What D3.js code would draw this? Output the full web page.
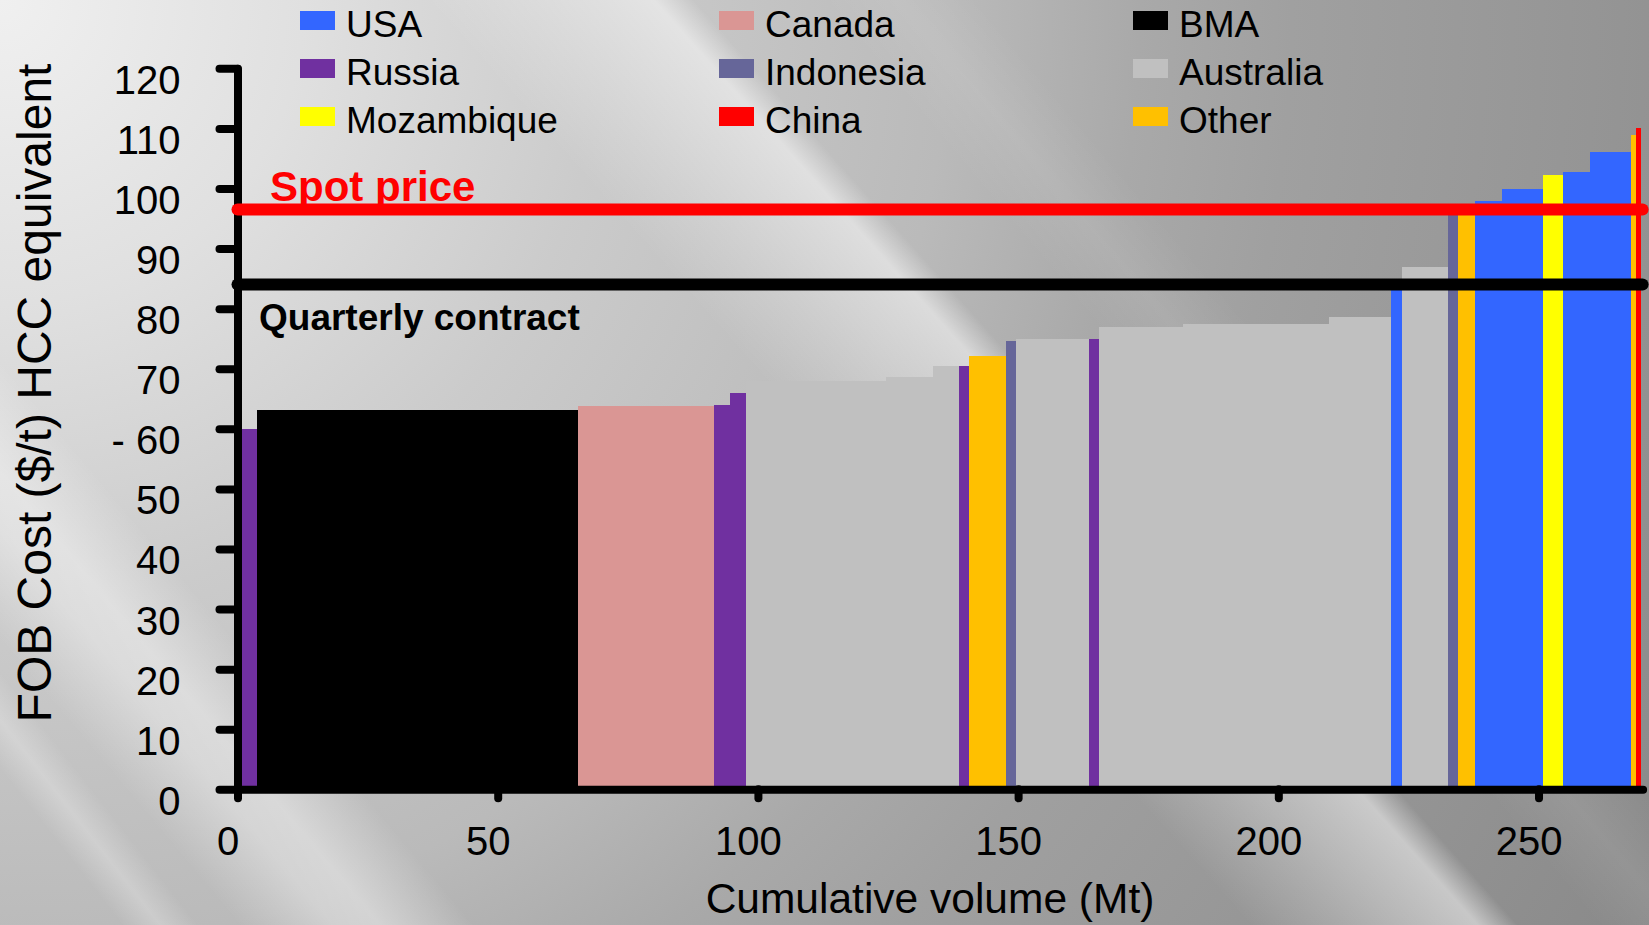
<!DOCTYPE html>
<html>
<head>
<meta charset="utf-8">
<title>Hard coking coal cost curve</title>
<script src="https://cdn.jsdelivr.net/npm/d3@7"></script>
<style>
  html, body { margin: 0; padding: 0; background: #b0b0b0; }
  svg { display: block; font-family: "Liberation Sans", Arial, sans-serif; }
</style>
</head>
<body>
<svg id="chart" width="1649" height="925"></svg>
<script>
// Supplier groups shown in the legend, with their fill colours
const countries = ["USA", "Canada", "BMA", "Russia", "Indonesia", "Australia", "Mozambique", "China", "Other"];
const countryColors = ["#3366FF", "#DA9694", "#000000", "#7030A0", "#666699", "#C0C0C0", "#FFFF00", "#FF0000", "#FFC000"];

// Cost curve steps, ordered from cheapest to most expensive
const supplier = ["Russia", "BMA", "Canada", "Russia", "Russia", "Australia", "Australia", "Australia", "Russia",
  "Other", "Indonesia", "Australia", "Russia", "Australia", "Australia", "Australia", "USA", "Australia",
  "Indonesia", "Other", "USA", "USA", "Mozambique", "USA", "USA", "Other", "China"];
const volumeMt = [3.8, 61.7, 26.1, 3.1, 3.0, 26.9, 9.0, 5.1, 1.9,
  7.1, 1.9, 14.1, 1.9, 16.1, 28.0, 12.0, 2.0, 9.0,
  1.9, 3.2, 5.1, 7.9, 4.0, 5.0, 8.0, 1.0, 0.9];
const fobCost = [60.0, 63.1, 63.8, 63.9, 65.9, 68.0, 68.7, 70.5, 70.5,
  72.1, 74.6, 74.9, 74.9, 76.9, 77.5, 78.6, 84.0, 86.9,
  96.0, 96.5, 97.9, 99.9, 102.2, 102.7, 106.1, 108.9, 110.1];

// Reference prices
const spotPrice = 96.5;
const quarterlyContract = 84;

// Axis ticks
const yTicks = [0, 10, 20, 30, 40, 50, 60, 70, 80, 90, 100, 110, 120];
const yTickLabels = ["0", "10", "20", "30", "40", "50", "- 60", "70", "80", "90", "100", "110", "120"];
const xTicks = [0, 50, 100, 150, 200, 250];
const xMax = 270;

const svg = d3.select("#chart");
const W = 1649, H = 925;

// ---------- background: grey sheen with diagonal light streaks ----------
const defs = svg.append("defs");
const bg = defs.append("radialGradient").attr("id", "bgGrad")
  .attr("gradientUnits", "userSpaceOnUse").attr("cx", 0).attr("cy", 0).attr("r", 1900);
[[0, "#f0f0f0"], [0.16, "#e0e0e0"], [0.32, "#cbcbcb"], [0.5, "#bababa"], [0.6, "#a9a9a9"],
 [0.68, "#a0a0a0"], [0.84, "#959595"], [1, "#898989"]]
  .forEach(([o, c]) => bg.append("stop").attr("offset", o).attr("stop-color", c));
svg.append("rect").attr("width", W).attr("height", H).attr("fill", "url(#bgGrad)");

const streaks = [
  { id: "s1", x: 600, y: 0, angle: 48.3, y0: -70, y1: 130, stops: [[0, 0], [0.15, 0.5], [0.45, 0.33], [1, 0]] },
  { id: "s2", x: 0, y: 500, angle: 50, y0: -90, y1: 90, stops: [[0, 0], [0.4, 0.4], [0.6, 0.35], [1, 0]] },
  { id: "s3", x: 0, y: 720, angle: 52, y0: -30, y1: 30, stops: [[0, 0], [0.5, 0.25], [1, 0]] },
  { id: "s4", x: 900, y: 0, angle: 50, y0: -60, y1: 60, stops: [[0, 0], [0.5, 0.08], [1, 0]] }
];
streaks.forEach(s => {
  const g = defs.append("linearGradient").attr("id", s.id)
    .attr("x1", 0).attr("y1", 0).attr("x2", 0).attr("y2", 1);
  s.stops.forEach(([o, a]) => g.append("stop").attr("offset", o)
    .attr("stop-color", "#ffffff").attr("stop-opacity", a));
  svg.append("rect")
    .attr("transform", `translate(${s.x},${s.y}) rotate(${s.angle})`)
    .attr("x", -2500).attr("width", 5000)
    .attr("y", s.y0).attr("height", s.y1 - s.y0)
    .attr("fill", `url(#${s.id})`);
});

// ---------- scales ----------
const x = d3.scaleLinear().domain([0, xMax]).range([237.5, 1642.6]);
const y = d3.scaleLinear().domain([0, 120]).range([789.3, 68.3]);
const color = d3.scaleOrdinal().domain(countries).range(countryColors);

// ---------- cost curve bars ----------
const ends = d3.cumsum(volumeMt);
const bars = supplier.map((s, i) => ({
  supplier: s,
  start: i === 0 ? 0 : ends[i - 1],
  end: ends[i],
  cost: fobCost[i]
}));

svg.append("g").selectAll("rect").data(bars).join("rect")
  .attr("x", d => x(d.start))
  .attr("width", d => x(d.end) - x(d.start))
  .attr("y", d => y(d.cost))
  .attr("height", d => y(0) - y(d.cost))
  .attr("fill", d => color(d.supplier))
  .attr("shape-rendering", "crispEdges");

// ---------- axes ----------
const yAxis = svg.append("g").attr("transform", `translate(${x(0)},0)`)
  .call(d3.axisLeft(y).tickValues(yTicks).tickFormat((d, i) => yTickLabels[i])
    .tickSize(18).tickSizeOuter(0));
const xAxis = svg.append("g").attr("transform", `translate(0,${y(0)})`)
  .call(d3.axisBottom(x).tickValues(xTicks).tickSize(9).tickSizeOuter(0));

[yAxis, xAxis].forEach(a => {
  a.select(".domain").attr("stroke", "#000").attr("stroke-width", 8).attr("stroke-linecap", "round");
  a.selectAll(".tick line").attr("stroke", "#000").attr("stroke-width", 8).attr("stroke-linecap", "round");
  a.selectAll(".tick text").attr("fill", "#000").attr("font-size", 40)
    .attr("font-family", "\"Liberation Sans\", Arial, sans-serif");
});
yAxis.selectAll(".tick text").attr("x", -57).attr("dy", null).attr("y", 25);
xAxis.selectAll(".tick text").attr("y", 66).attr("dy", null).attr("dx", -10);

// ---------- axis titles ----------
svg.append("text")
  .attr("transform", "translate(51,393) rotate(-90)")
  .attr("text-anchor", "middle").attr("font-size", 48).attr("fill", "#000")
  .text("FOB Cost ($/t) HCC equivalent");
svg.append("text")
  .attr("x", 930).attr("y", 913)
  .attr("text-anchor", "middle").attr("font-size", 42.5).attr("fill", "#000")
  .text("Cumulative volume (Mt)");

// ---------- price reference lines ----------
svg.append("line")
  .attr("x1", x(0)).attr("x2", x(xMax))
  .attr("y1", y(quarterlyContract)).attr("y2", y(quarterlyContract))
  .attr("stroke", "#000").attr("stroke-width", 12).attr("stroke-linecap", "round");
svg.append("line")
  .attr("x1", x(0)).attr("x2", x(xMax))
  .attr("y1", y(spotPrice)).attr("y2", y(spotPrice))
  .attr("stroke", "#FF0000").attr("stroke-width", 12).attr("stroke-linecap", "round");

svg.append("text")
  .attr("x", 270).attr("y", 201)
  .attr("font-size", 42).attr("font-weight", "bold").attr("fill", "#FF0000")
  .text("Spot price");
svg.append("text")
  .attr("x", 259).attr("y", 330)
  .attr("font-size", 37).attr("font-weight", "bold").attr("fill", "#000")
  .text("Quarterly contract");

// ---------- legend (three columns, filled row by row) ----------
const legendCols = [300, 719, 1133];
const legendRows = [11, 59, 107];
const legend = svg.append("g").selectAll("g").data(countries).join("g")
  .attr("transform", (d, i) => `translate(${legendCols[i % 3]},${legendRows[Math.floor(i / 3)]})`);
legend.append("rect").attr("width", 35).attr("height", 19).attr("fill", d => color(d));
legend.append("text").attr("x", 46).attr("y", 26)
  .attr("font-size", 37).attr("fill", "#000").text(d => d);
</script>
</body>
</html>
